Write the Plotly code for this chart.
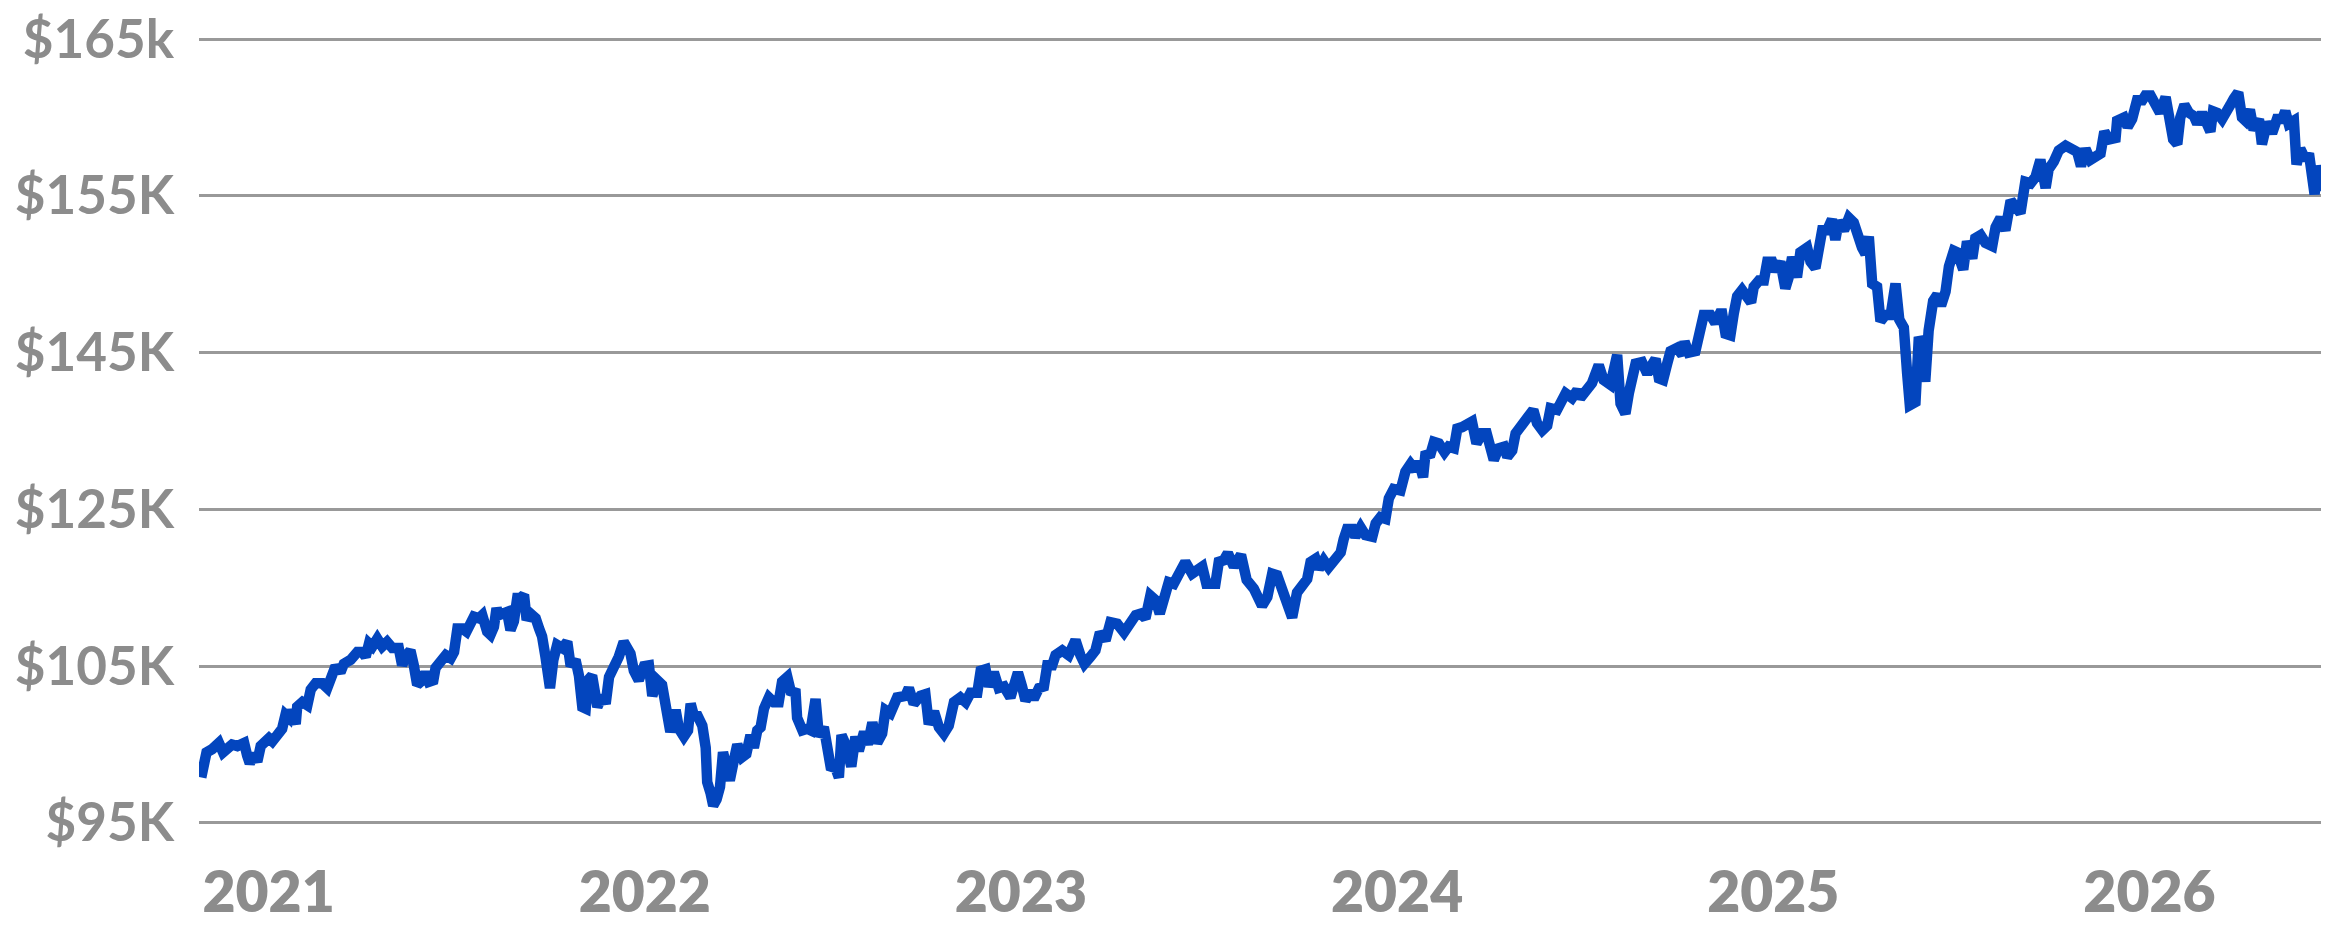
import numpy as np
import plotly.graph_objects as go

# y axis: evenly spaced gridlines carrying these (uneven) labels
grid_values_k = [95, 105, 125, 145, 155, 165]
grid_labels = ["$95K", "$105K", "$125K", "$145K", "$155K", "$165k"]

year_ticks = [2021, 2022, 2023, 2024, 2025, 2026]

# portfolio value in $K, x as decimal year
x_year = [
    2020.821, 2020.826, 2020.835, 2020.850, 2020.868, 2020.879, 2020.890, 2020.903, 2020.917, 2020.935,
    2020.943, 2020.950, 2020.961, 2020.970, 2020.979, 2020.992, 2021.001, 2021.010, 2021.023, 2021.036,
    2021.045, 2021.054, 2021.059, 2021.072, 2021.076, 2021.090, 2021.103, 2021.112, 2021.125, 2021.143,
    2021.156, 2021.165, 2021.178, 2021.191, 2021.200, 2021.218, 2021.236, 2021.249, 2021.258, 2021.267,
    2021.276, 2021.289, 2021.302, 2021.315, 2021.329, 2021.346, 2021.355, 2021.364, 2021.377, 2021.386,
    2021.395, 2021.409, 2021.417, 2021.426, 2021.438, 2021.444, 2021.457, 2021.471, 2021.484, 2021.493,
    2021.502, 2021.515, 2021.526, 2021.537, 2021.546, 2021.559, 2021.568, 2021.581, 2021.590, 2021.599,
    2021.606,
    2021.612, 2021.626, 2021.634, 2021.643, 2021.652, 2021.661, 2021.670, 2021.679, 2021.686, 2021.696,
    2021.710, 2021.719, 2021.727, 2021.736, 2021.748, 2021.757, 2021.767, 2021.781, 2021.794, 2021.803,
    2021.816, 2021.825, 2021.834, 2021.843, 2021.849, 2021.860, 2021.874, 2021.887, 2021.896, 2021.905,
    2021.918, 2021.931, 2021.944, 2021.953, 2021.962, 2021.971, 2021.984, 2021.998, 2022.011, 2022.020,
    2022.033, 2022.046, 2022.055, 2022.068, 2022.082, 2022.091, 2022.104, 2022.115, 2022.122, 2022.131,
    2022.141, 2022.153, 2022.162, 2022.166, 2022.175, 2022.182, 2022.191, 2022.200, 2022.208, 2022.215,
    2022.226, 2022.237, 2022.246, 2022.259, 2022.270, 2022.281, 2022.290, 2022.299, 2022.308, 2022.317,
    2022.330, 2022.343, 2022.356, 2022.365, 2022.379,
    2022.388, 2022.401, 2022.405, 2022.419, 2022.432, 2022.441, 2022.454, 2022.463, 2022.476, 2022.485,
    2022.494, 2022.507, 2022.516, 2022.523, 2022.534, 2022.549, 2022.560, 2022.569, 2022.583, 2022.593,
    2022.605, 2022.618, 2022.631, 2022.640, 2022.653, 2022.671, 2022.693, 2022.702, 2022.715, 2022.733,
    2022.746, 2022.755, 2022.769, 2022.782, 2022.795, 2022.808, 2022.822, 2022.839, 2022.853, 2022.866,
    2022.884, 2022.893, 2022.906, 2022.915, 2022.928, 2022.941, 2022.955, 2022.972, 2022.981, 2022.992,
    2023.003, 2023.012, 2023.026, 2023.034, 2023.048, 2023.061, 2023.070, 2023.083, 2023.092, 2023.110,
    2023.127, 2023.145, 2023.158, 2023.169, 2023.185, 2023.198, 2023.210, 2023.225, 2023.238, 2023.256,
    2023.274, 2023.291, 2023.305, 2023.318, 2023.331, 2023.344, 2023.358, 2023.369, 2023.384, 2023.393,
    2023.406, 2023.420, 2023.437, 2023.455, 2023.469, 2023.482, 2023.493, 2023.508, 2023.517, 2023.526,
    2023.539, 2023.550, 2023.566, 2023.585, 2023.600, 2023.619, 2023.632,
    2023.641, 2023.655, 2023.668, 2023.681, 2023.694, 2023.708, 2023.721, 2023.734, 2023.748, 2023.761,
    2023.770, 2023.783, 2023.792, 2023.805, 2023.818, 2023.836, 2023.850, 2023.858, 2023.867, 2023.881,
    2023.889, 2023.903, 2023.916, 2023.934, 2023.943, 2023.956, 2023.969, 2023.978, 2023.991, 2024.009,
    2024.022, 2024.036, 2024.049, 2024.058, 2024.069, 2024.075, 2024.089, 2024.098, 2024.111, 2024.126,
    2024.137, 2024.151, 2024.160, 2024.173, 2024.186, 2024.199, 2024.211, 2024.226, 2024.238, 2024.248,
    2024.257, 2024.270, 2024.284, 2024.293, 2024.306, 2024.315, 2024.324, 2024.337, 2024.346, 2024.362,
    2024.372, 2024.386, 2024.399, 2024.408, 2024.425, 2024.434, 2024.448, 2024.465, 2024.479, 2024.487,
    2024.505, 2024.518, 2024.536, 2024.549, 2024.567, 2024.585, 2024.594, 2024.607, 2024.616, 2024.634,
    2024.651, 2024.665, 2024.673, 2024.687, 2024.696, 2024.707, 2024.718, 2024.727, 2024.744, 2024.758,
    2024.764, 2024.775, 2024.793, 2024.802, 2024.815, 2024.833, 2024.846, 2024.858,
    2024.864, 2024.873, 2024.886, 2024.895, 2024.904, 2024.917, 2024.931, 2024.941, 2024.948, 2024.962,
    2024.975, 2024.984, 2024.997, 2025.006, 2025.019, 2025.032, 2025.041, 2025.050, 2025.063, 2025.072,
    2025.090, 2025.099, 2025.112, 2025.121, 2025.130, 2025.143, 2025.156, 2025.165, 2025.174, 2025.188,
    2025.201, 2025.214, 2025.227, 2025.236, 2025.245, 2025.254, 2025.263, 2025.276, 2025.285, 2025.298,
    2025.312, 2025.325, 2025.335, 2025.347, 2025.356, 2025.363, 2025.378, 2025.387, 2025.394, 2025.404,
    2025.413, 2025.425, 2025.436, 2025.446, 2025.458, 2025.467, 2025.480, 2025.489, 2025.505, 2025.515,
    2025.529, 2025.537, 2025.551, 2025.564, 2025.582, 2025.591, 2025.604, 2025.617, 2025.631, 2025.644,
    2025.657, 2025.670, 2025.684, 2025.697, 2025.710, 2025.724, 2025.732, 2025.746, 2025.759,
    2025.777, 2025.794, 2025.808, 2025.818, 2025.830, 2025.843, 2025.857, 2025.870, 2025.880, 2025.892,
    2025.910, 2025.914, 2025.932, 2025.942, 2025.954, 2025.967, 2025.981, 2025.989, 2026.003, 2026.016,
    2026.028, 2026.043, 2026.054, 2026.063, 2026.074, 2026.082, 2026.093, 2026.105, 2026.118, 2026.127,
    2026.140, 2026.153, 2026.162, 2026.169, 2026.180, 2026.193, 2026.206, 2026.215, 2026.224, 2026.236,
    2026.246, 2026.255, 2026.267, 2026.277, 2026.291, 2026.299, 2026.313, 2026.326, 2026.339, 2026.353,
    2026.361, 2026.370, 2026.384, 2026.391, 2026.401, 2026.415, 2026.424, 2026.432, 2026.439, 2026.446,
    2026.455, 2026.463, 2026.469,
]

value_k = [
    97.9, 98.9, 99.5, 99.7, 100.1, 99.5, 99.8, 100.0, 99.9, 100.1,
    99.3, 98.8, 99.4, 98.9, 99.9, 100.2, 100.4, 100.2, 100.7, 101.0,
    101.9, 101.7, 102.2, 101.3, 102.4, 102.7, 102.5, 103.5, 103.9, 103.9,
    103.6, 104.3, 105.0, 104.6, 105.3, 105.8, 106.8, 106.8, 106.2, 107.9,
    107.5, 108.5, 107.5, 108.1, 107.3, 107.3, 105.1, 106.2, 107.0, 105.1,
    103.8, 104.1, 104.6, 104.0, 104.1, 104.9, 105.6, 106.4, 106.0, 106.8,
    109.8, 109.8, 109.4, 110.2, 111.3, 111.1, 111.5, 109.4, 109.0, 110.0,
    112.4,
    111.5, 111.7, 111.9, 109.6, 110.7, 113.7, 113.7, 114.1, 110.9, 111.7,
    111.1, 109.8, 108.8, 106.2, 103.6, 105.8, 107.7, 107.3, 108.1, 105.0,
    105.8, 104.4, 102.4, 102.3, 104.1, 104.4, 102.4, 103.1, 102.6, 104.3,
    104.9, 106.2, 108.1, 107.3, 106.6, 104.7, 104.1, 105.0, 105.1, 103.1,
    104.1, 103.8, 102.0, 100.8, 102.2, 101.0, 100.5, 100.9, 102.6, 101.8,
    101.8, 101.2, 99.8, 97.6, 96.9, 96.1, 96.5, 97.3, 99.5, 99.0,
    97.7, 99.0, 100.0, 99.2, 99.4, 100.6, 99.8, 100.9, 101.1, 102.3,
    103.0, 102.7, 102.7, 104.0, 104.3,
    103.4, 103.3, 101.7, 100.9, 101.0, 100.9, 102.9, 100.5, 101.1, 100.2,
    98.6, 98.5, 97.9, 100.6, 100.0, 98.6, 100.5, 99.6, 100.8, 100.0,
    101.4, 100.1, 100.7, 102.2, 102.0, 103.0, 103.1, 103.6, 102.6, 103.1,
    103.2, 101.3, 102.1, 101.1, 100.7, 101.2, 102.7, 103.0, 102.7, 103.3,
    103.3, 104.7, 104.8, 103.7, 104.6, 103.6, 103.7, 103.0, 103.8, 104.6,
    103.7, 102.8, 103.4, 102.9, 103.6, 103.7, 105.1, 105.1, 106.4, 107.0,
    106.4, 108.3, 106.4, 105.3, 106.2, 107.0, 109.3, 108.3, 110.6, 110.4,
    109.3, 110.8, 111.5, 111.7, 111.1, 114.0, 113.4, 111.7, 113.8, 115.7,
    115.5, 116.8, 118.3, 116.8, 117.5, 117.7, 115.5, 115.7, 115.5, 118.3,
    118.5, 119.4, 117.7, 119.2, 116.0, 114.9, 113.4,
    112.7, 113.8, 116.8, 116.6, 114.6, 112.3, 111.2, 114.4, 115.5, 116.1,
    118.3, 118.7, 117.4, 118.5, 117.6, 118.7, 119.5, 121.2, 122.5, 122.5,
    121.5, 122.7, 121.7, 121.5, 123.2, 124.0, 123.8, 126.4, 127.6, 127.4,
    129.8, 130.8, 130.0, 131.1, 129.1, 131.9, 132.1, 133.6, 133.4, 132.3,
    133.0, 132.8, 135.3, 135.5, 136.0, 136.2, 133.4, 134.7, 134.7, 132.5,
    131.3, 132.8, 133.0, 131.7, 132.5, 134.7, 135.3, 135.7, 136.8, 137.7,
    136.0, 135.1, 135.7, 137.9, 137.7, 138.9, 139.8, 139.2, 140.2, 139.2,
    140.2, 141.1, 143.4, 141.5, 140.9, 144.7, 138.5, 137.2, 139.8, 143.6,
    143.8, 142.3, 143.1, 144.2, 141.7, 141.5, 143.6, 145.1, 145.3, 144.7,
    145.7, 145.0, 145.1, 146.3, 147.4, 147.4, 146.9, 147.5,
    147.5, 146.2, 146.1, 147.5, 148.6, 149.0, 148.5, 148.2, 149.2, 149.6,
    149.6, 150.8, 150.8, 150.2, 150.8, 149.1, 149.8, 151.1, 149.8, 151.4,
    151.7, 150.8, 150.4, 152.2, 152.8, 152.8, 153.5, 152.2, 153.4, 152.8,
    153.6, 153.3, 152.2, 151.7, 151.3, 152.4, 149.4, 149.2, 147.0, 147.4,
    147.4, 149.4, 147.1, 146.6, 142.3, 138.3, 138.7, 146.0, 145.6, 141.3,
    146.4, 148.3, 148.7, 148.0, 148.9, 150.5, 151.5, 151.4, 150.3, 152.1,
    151.0, 152.3, 152.5, 152.0, 151.8, 153.0, 153.6, 152.8, 154.7, 154.4,
    153.9, 155.9, 155.8, 156.2, 157.3, 155.5, 156.7, 157.2, 157.9,
    158.2, 158.0, 157.8, 156.9, 158.0, 157.3, 157.6, 157.7, 159.1, 158.6,
    158.7, 159.8, 160.0, 159.4, 159.9, 161.1, 161.1, 161.4, 161.4, 160.7,
    160.3, 161.3, 159.8, 158.6, 158.3, 160.0, 160.8, 160.3, 160.1, 159.6,
    160.3, 159.3, 159.1, 160.4, 160.3, 159.9, 160.3, 160.8, 161.2, 161.6,
    160.0, 159.8, 160.5, 159.2, 159.9, 158.3, 159.7, 159.0, 159.9, 159.9,
    160.4, 159.6, 159.8, 157.0, 158.0, 157.3, 157.7, 156.2, 155.1, 156.9,
    156.2, 155.4, 155.7,
]

# place each value on the evenly spaced gridline scale
grid_pos = np.interp(value_k, grid_values_k, np.arange(len(grid_values_k)))

gray = "#8c8c8c"

fig = go.Figure(
    data=[
        go.Scatter(
            x=x_year,
            y=grid_pos,
            mode="lines",
            line=dict(color="#0345be", width=10.5),
            hoverinfo="skip",
        )
    ]
)

# the page body keeps its default 8px margin, so the figure is 8px smaller
fig.update_layout(
    width=2321,
    height=917,
    margin=dict(l=191, r=2, t=28, b=99, pad=0),
    paper_bgcolor="white",
    plot_bgcolor="white",
    showlegend=False,
    font=dict(family="Lato", color=gray),
)

fig.update_xaxes(
    range=[2020.815, 2026.472],
    tickvals=year_ticks,
    ticktext=[str(y) for y in year_ticks],
    showgrid=False,
    zeroline=False,
    showline=False,
    automargin=False,
    ticks="",
    ticklabelstandoff=28,
    ticklabeloverflow="allow",
    tickfont=dict(family="Lato", size=57, color=gray, weight=800),
)

fig.update_yaxes(
    range=[-0.02, 5.02],
    tickvals=list(range(len(grid_labels))),
    ticktext=grid_labels,
    showgrid=True,
    gridcolor="#999999",
    gridwidth=3,
    zeroline=False,
    showline=False,
    automargin=False,
    ticks="",
    ticklabelstandoff=24,
    ticklabeloverflow="allow",
    tickfont=dict(family="Lato", size=53, color=gray, weight=700),
)

fig.write_html("out.html")
